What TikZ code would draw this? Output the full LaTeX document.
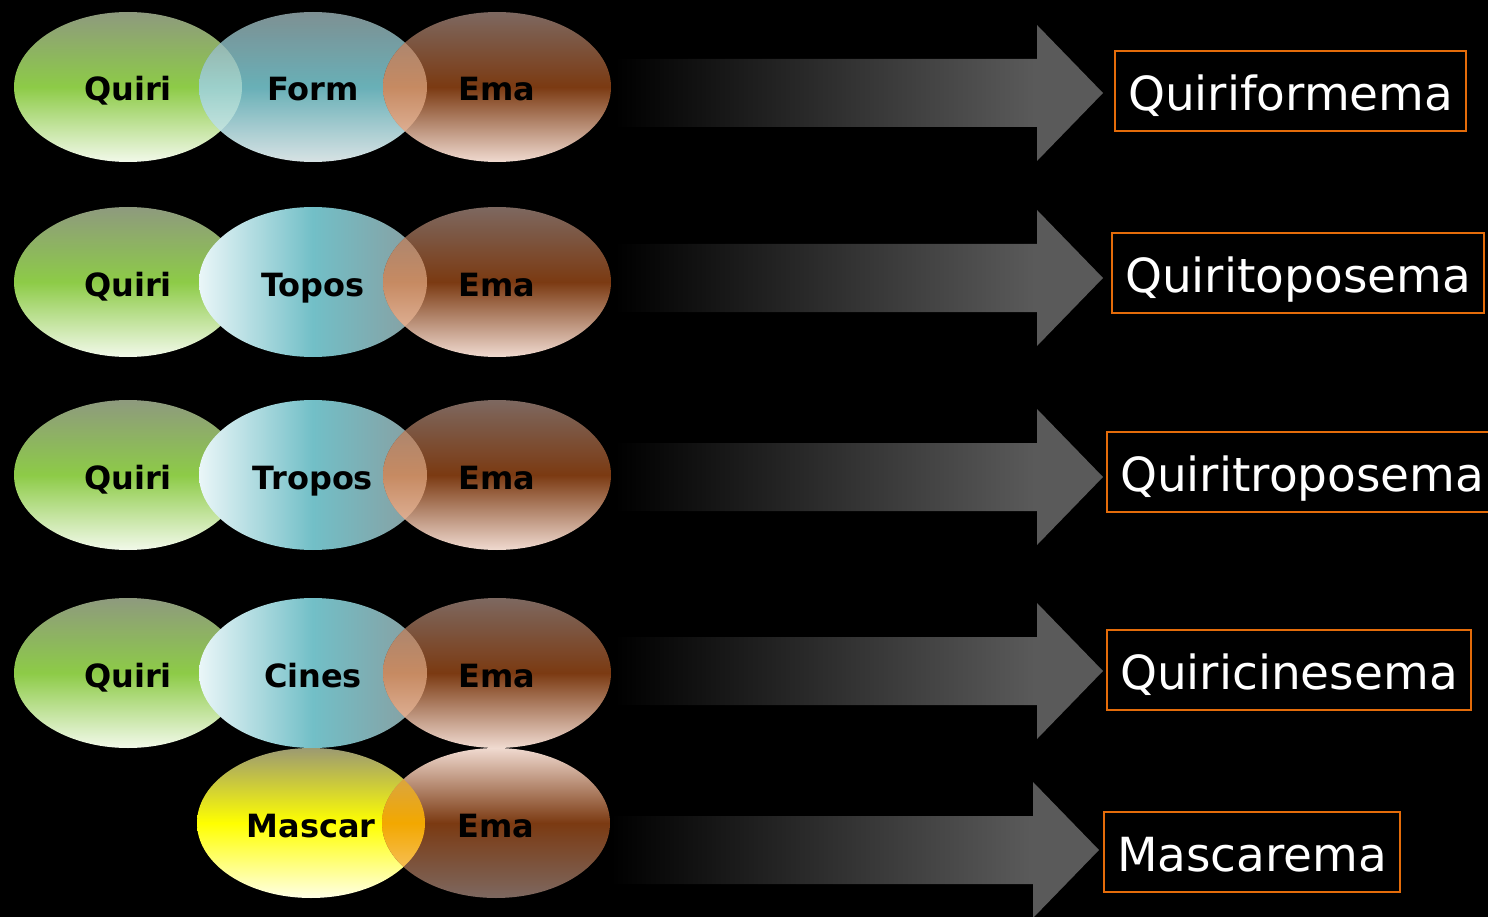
\documentclass[tikz,border=0pt]{standalone}
\usepackage{fontspec}
\setmainfont{DejaVu Sans}
\usetikzlibrary{shapes.geometric}

\definecolor{gtop}{HTML}{8E9A7E}
\definecolor{gmid}{HTML}{8DCB47}
\definecolor{gbot}{HTML}{F2F9EA}
\definecolor{btop}{HTML}{899DA0}
\definecolor{bmid}{HTML}{72BFC7}
\definecolor{bbot}{HTML}{EAF6F8}
\definecolor{btip}{HTML}{8A9C9E}
\definecolor{rtop}{HTML}{7D6860}
\definecolor{rmid}{HTML}{7B3A12}
\definecolor{rbot}{HTML}{F0DAD0}
\definecolor{ytop}{HTML}{9C9A72}
\definecolor{ymid}{HTML}{FFFF00}
\definecolor{ybot}{HTML}{FFFFE6}
\definecolor{otop}{HTML}{9E8476}
\definecolor{omid}{HTML}{C68A62}
\definecolor{obot}{HTML}{ECC6B2}
\definecolor{ytop2}{HTML}{C9A36A}
\definecolor{ymid2}{HTML}{F3A800}
\definecolor{ybot2}{HTML}{F7CD8C}
\definecolor{gtop2}{HTML}{92A69C}
\definecolor{gmid2}{HTML}{9CD0CB}
\definecolor{gbot2}{HTML}{DDEFEA}
\definecolor{arrowgray}{HTML}{5A5A5A}
\definecolor{boxorange}{HTML}{E46C0A}

\pgfdeclarehorizontalshading{arrowfade}{100bp}{color(0bp)=(black); color(25bp)=(black); color(68bp)=(arrowgray); color(100bp)=(arrowgray)}

\tikzset{
  lbl/.style={shape=ellipse, minimum width=228pt, minimum height=150pt, inner sep=0pt,
    font=\fontsize{32}{38}\selectfont\bfseries, text=black, text height=32pt, text depth=4pt},
  quiri/.style={lbl, top color=gtop, bottom color=gbot, middle color=gmid},
  formv/.style={lbl, top color=btop, bottom color=bbot, middle color=bmid},
  formh/.style={lbl, left color=bbot, right color=btip, middle color=bmid},
  ema/.style={lbl, top color=rtop, bottom color=rbot, middle color=rmid},
  emaup/.style={lbl, top color=rbot, bottom color=rtop, middle color=rmid},
  mascar/.style={lbl, top color=ytop, bottom color=ybot, middle color=ymid},
  res/.style={draw=boxorange, line width=2pt, text=white, minimum height=80pt,
    inner xsep=13pt, text height=43pt, text depth=4pt,
    font=\fontsize{47}{56}\selectfont, anchor=west}
}

\begin{document}
\begin{tikzpicture}[x=1pt, y=-1pt]
\fill[black] (0,0) rectangle (1488,917);
\useasboundingbox (0,0) rectangle (1488,917);

% first row
\node[quiri] (q1) at (128,87) {Quiri};
\node[formv, fill opacity=.92, text opacity=1] (m1) at (313,87) {Form};
\node[ema] (e1) at (497,87) {Ema};

% rows with the same three parts
\foreach \i/\y/\w in {2/282/Topos,3/475/Tropos,4/673/Cines}
{
    \node[quiri] (q\i) at (128,\y) {Quiri};
    \node[formh] (m\i) at (313,\y) {\w};
    \node[ema] (e\i) at (497,\y) {Ema};
}

% last row
\node[mascar] (m5) at (311,823) {Mascar};
\node[emaup] (e5) at (496,823) {Ema};

% overlaps
\begin{scope}
    \clip (q1.center) ellipse [x radius=114pt, y radius=75pt];
    \shade[top color=gtop2, bottom color=gbot2, middle color=gmid2] (m1.center) ellipse [x radius=114pt, y radius=75pt];
\end{scope}
\foreach \i in {1,2,3,4}
{
    \begin{scope}
        \clip (m\i.center) ellipse [x radius=114pt, y radius=75pt];
        \shade[top color=otop, bottom color=obot, middle color=omid] (e\i.center) ellipse [x radius=114pt, y radius=75pt];
    \end{scope}
}
\begin{scope}
    \clip (m5.center) ellipse [x radius=114pt, y radius=75pt];
    \shade[top color=ytop2, bottom color=ybot2, middle color=ymid2] (e5.center) ellipse [x radius=114pt, y radius=75pt];
\end{scope}

% arrows
\foreach \i/\x/\y in {1/615/93,2/615/278,3/615/477,4/615/671,5/611/850}
{
    \coordinate (s\i) at (\x,\y);
    \shade[shading=arrowfade] (s\i) -- ++(0,-34) -- ++(422,0) -- ++(0,-34) -- ++(66,68)
        -- ++(-66,68) -- ++(0,-34) -- ++(-422,0) -- cycle;
}

% results
\foreach \i/\x/\y/\t in {1/1114/91/Quiriformema,2/1111/273/Quiritoposema,3/1106/472/Quiritroposema,4/1106/670/Quiricinesema,5/1103/852/Mascarema}
{
    \node[res] (r\i) at (\x,\y) {\t};
}

\end{tikzpicture}
\end{document}
